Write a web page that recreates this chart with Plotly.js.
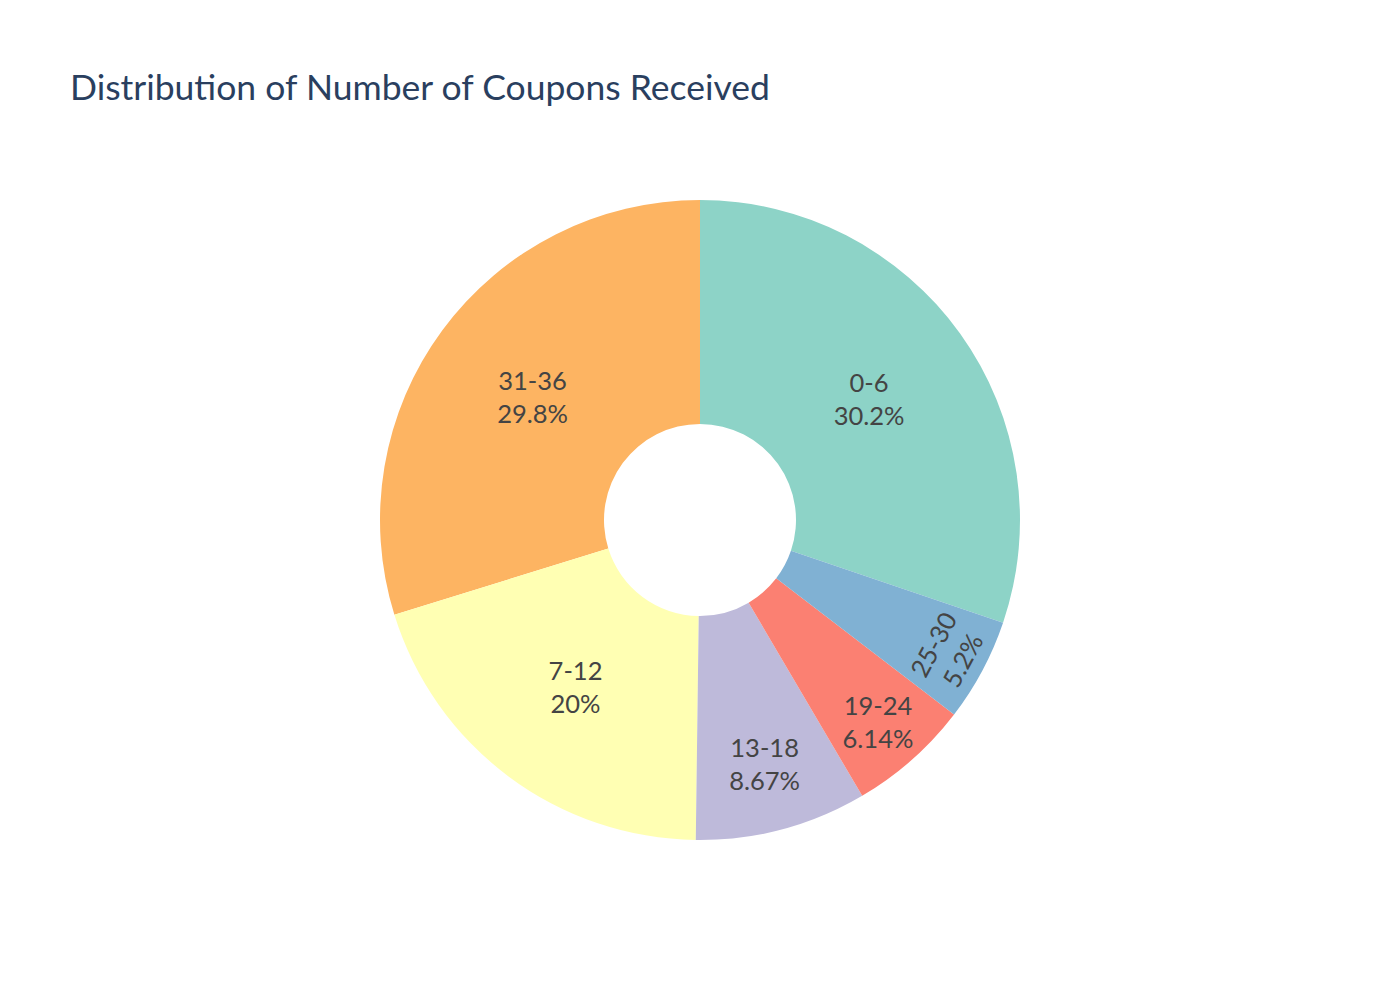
<!DOCTYPE html>
<html>
<head>
<meta charset="utf-8">
<script src="https://cdn.plot.ly/plotly-3.0.1.min.js"></script>
<style>
	body { margin: 0; background: #fff; }
	#chart { width: 1400px; height: 1000px; }
</style>
</head>
<body>
<div id="chart"></div>
<script>
// Coupon count buckets and their shares
var bucketLabels = ['0-6', '7-12', '13-18', '19-24', '25-30', '31-36'];
var bucketShares = [30.2, 20, 8.67, 6.14, 5.2, 29.79];
var bucketColors = ['#8dd3c7', '#ffffb3', '#bebada', '#fb8072', '#80b1d3', '#fdb462'];
// the thin slice gets its label turned across the radius
var turnedLabels = ['25-30'];

var flatTemplates = bucketLabels.map(function(l) {
	return turnedLabels.indexOf(l) >= 0 ? '' : '%{label}<br>%{percent}';
});
var turnedTemplates = bucketLabels.map(function(l) {
	return turnedLabels.indexOf(l) >= 0 ? '%{label}<br>%{percent}' : '';
});

var donut = {
	type: 'pie',
	labels: bucketLabels,
	values: bucketShares,
	hole: 0.3,
	texttemplate: flatTemplates,
	textposition: 'inside',
	insidetextorientation: 'horizontal',
	marker: {
		colors: bucketColors,
		line: { width: 0 }
	},
	textfont: {
		size: 25.5,
		color: '#444'
	},
	showlegend: false
};

// same slices again, no fill, only to carry the turned label
var donutLabels = {
	type: 'pie',
	labels: bucketLabels,
	values: bucketShares,
	hole: 0.3,
	texttemplate: turnedTemplates,
	textposition: 'inside',
	insidetextorientation: 'tangential',
	marker: {
		colors: bucketLabels.map(function() { return 'rgba(0,0,0,0)'; }),
		line: { width: 0 }
	},
	textfont: {
		size: 25.5,
		color: '#444'
	},
	hoverinfo: 'skip',
	showlegend: false
};

var layout = {
	width: 1400,
	height: 1000,
	paper_bgcolor: '#fff',
	margin: { l: 80, r: 80, t: 200, b: 160 },
	font: {
		family: 'Source Sans Pro, Lato, sans-serif',
		color: '#444'
	},
	title: {
		text: 'Distribution of Number of Coupons Received',
		x: 0.05,
		xanchor: 'left',
		y: 0.912,
		yanchor: 'middle',
		font: { size: 35.5, color: '#2a3f5f' }
	}
};

Plotly.newPlot('chart', [donut, donutLabels], layout, { displayModeBar: false });
</script>
</body>
</html>
